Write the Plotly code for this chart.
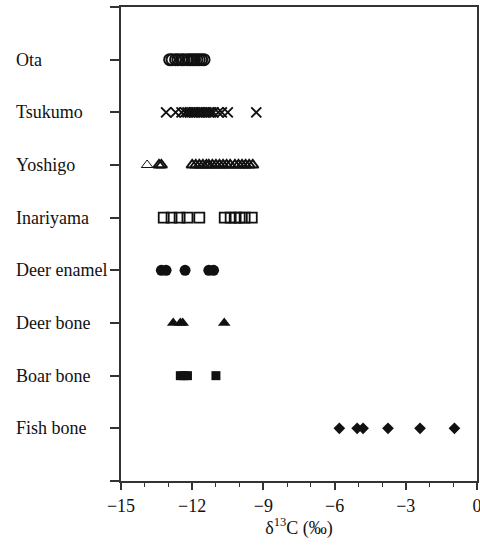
import plotly.graph_objects as go

# Sample groups, listed top to bottom
categories = ["Ota", "Tsukumo", "Yoshigo", "Inariyama",
              "Deer enamel", "Deer bone", "Boar bone", "Fish bone"]

# δ13C values (‰) per group
ota = [-12.95, -12.85, -12.7, -12.6, -12.45, -12.35, -12.2, -12.1,
       -12.0, -11.9, -11.8, -11.7, -11.6, -11.5]
tsukumo = [-13.1, -12.7, -12.45, -12.3, -12.2, -12.1, -12.0, -11.9, -11.8,
           -11.7, -11.6, -11.5, -11.4, -11.3, -11.2, -11.1, -10.9, -10.75,
           -10.5, -9.3]
yoshigo_thin = [-13.9]
yoshigo = [-13.4, -13.3, -12.0, -11.85, -11.7, -11.55, -11.4, -11.3, -11.15,
           -11.0, -10.85, -10.7, -10.55, -10.4, -10.2, -10.05, -9.9, -9.75,
           -9.6, -9.45]
inariyama = [-13.2, -12.87, -12.53, -12.2, -11.7,
             -10.63, -10.38, -10.17, -10.0, -9.79, -9.49]
deer_enamel = [-13.3, -13.1, -12.3, -11.3, -11.1]
deer_bone = [-12.8, -12.5, -12.4, -10.65]
boar_bone = [-12.5, -12.35, -12.2, -11.0]
fish_bone = [-5.8, -5.05, -4.8, -3.75, -2.4, -0.95]

# Row index (1 = bottom row)
row = {c: len(categories) - i for i, c in enumerate(categories)}

INK = "#111111"
AXIS = "#333333"
FONT = "Liberation Serif, Times New Roman, serif"

series = [
    ("Ota", ota, dict(symbol="circle-open", size=11, color=INK, line=dict(width=2.0, color=INK))),
    ("Tsukumo", tsukumo, dict(symbol="x-thin-open", size=10, color=INK, line=dict(width=1.9, color=INK))),
    ("Yoshigo", yoshigo_thin, dict(symbol="triangle-up-open", size=10, color=INK, line=dict(width=1.0, color=INK))),
    ("Yoshigo", yoshigo, dict(symbol="triangle-up-open", size=10, color=INK, line=dict(width=2.0, color=INK))),
    ("Inariyama", inariyama, dict(symbol="square-open", size=10, color=INK, line=dict(width=1.8, color=INK))),
    ("Deer enamel", deer_enamel, dict(symbol="circle", size=11, color=INK, line=dict(width=0))),
    ("Deer bone", deer_bone, dict(symbol="triangle-up", size=11, color=INK, line=dict(width=0))),
    ("Boar bone", boar_bone, dict(symbol="square", size=9, color=INK, line=dict(width=0))),
    ("Fish bone", fish_bone, dict(symbol="diamond", size=9, color=INK, line=dict(width=0))),
]

fig = go.Figure()
for name, vals, marker in series:
    fig.add_trace(go.Scatter(
        x=vals, y=[row[name]] * len(vals), mode="markers",
        marker=marker, showlegend=False, hoverinfo="x",
    ))

# Left-aligned group names beside the y ticks
for c in categories:
    fig.add_annotation(
        x=-0.301, y=row[c], xref="paper", yref="y", text=c,
        xanchor="left", yanchor="middle", showarrow=False,
        font=dict(family=FONT, size=18, color=INK),
    )

fig.update_layout(
    width=480, height=545,
    margin=dict(l=121, r=3, t=7, b=64),
    paper_bgcolor="white", plot_bgcolor="white",
    font=dict(family=FONT, size=18, color=INK),
)
fig.update_xaxes(
    range=[-15, 0], tickmode="linear", tick0=-15, dtick=3,
    automargin=False, ticklabeloverflow="allow",
    ticks="outside", ticklen=7, tickwidth=1.5, tickcolor=AXIS,
    minor=dict(dtick=1, ticks="outside", ticklen=4, tickwidth=1.2, tickcolor=AXIS),
    showline=True, linecolor=AXIS, linewidth=1.8, mirror=True,
    showgrid=False, zeroline=False,
    tickfont=dict(family=FONT, size=18, color=INK),
    title=dict(text="δ<sup>13</sup>C (‰)", font=dict(family=FONT, size=18, color=INK), standoff=6),
)
fig.update_yaxes(
    range=[0, len(categories) + 1], tickmode="array",
    tickvals=list(range(0, len(categories) + 2)),
    showticklabels=False, automargin=False,
    ticks="outside", ticklen=9, tickwidth=1.5, tickcolor=AXIS,
    showline=True, linecolor=AXIS, linewidth=1.8, mirror=True,
    showgrid=False, zeroline=False,
)

fig.write_html("out.html")
